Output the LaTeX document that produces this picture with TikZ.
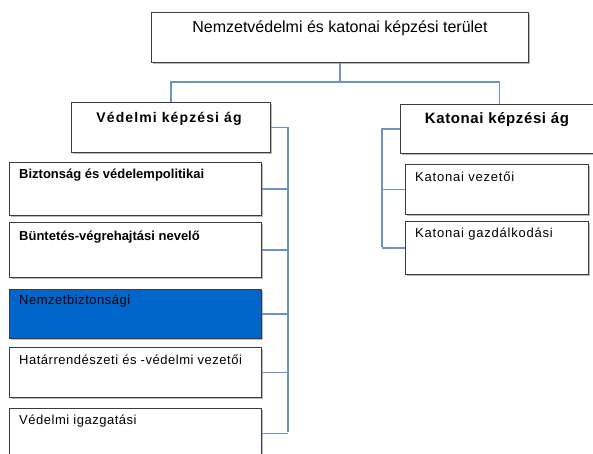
\documentclass[tikz,border=0pt]{standalone}
\usepackage{fontspec}
\usetikzlibrary{shadows}
\setmainfont{Liberation Sans}
\definecolor{connc}{RGB}{110,145,200}
\definecolor{boxc}{RGB}{60,60,60}
\definecolor{bluef}{RGB}{0,102,204}
\begin{document}
\begin{tikzpicture}[x=1pt,y=-1pt,
  box/.style={draw=boxc, line width=1.1pt, fill=white, inner sep=0pt, anchor=north west,
    drop shadow={shadow xshift=1.2pt, shadow yshift=-1.2pt, opacity=0.45, fill=black!60}},
  conn/.style={draw=connc, line width=1.4pt},
  headtxt/.style={inner sep=0pt, anchor=base, font=\fontsize{16}{19}\selectfont},
  branchtxt/.style={inner sep=0pt, anchor=base, font=\bfseries\fontsize{14}{17}\selectfont\addfontfeatures{LetterSpace=8}},
  ktxt/.style={inner sep=0pt, anchor=base, font=\bfseries\fontsize{15}{18}\selectfont\addfontfeatures{LetterSpace=4}},
  boldtxt/.style={inner sep=0pt, anchor=base west, font=\bfseries\fontsize{13}{16}\selectfont},
  regtxt/.style={inner sep=0pt, anchor=base west, font=\fontsize{13}{16}\selectfont\addfontfeatures{LetterSpace=4}},
  kregtxt/.style={inner sep=0pt, anchor=base west, font=\fontsize{13}{16}\selectfont\addfontfeatures{LetterSpace=6}}
]
\useasboundingbox (0,0) rectangle (593,453);

% helper coordinates
\coordinate (bus) at (339,82);
\coordinate (lb) at (288,432);
\coordinate (rb) at (382,247);

% boxes
\node[box, minimum width=377, minimum height=50] (top) at (151,12) {};
\node[box, minimum width=199, minimum height=50] (V) at (71,102) {};
\node[box, minimum width=198, minimum height=49] (K) at (400,104) {};

\node[box, minimum width=252, minimum height=53] (b1) at (9,162) {};
\node[box, minimum width=252, minimum height=55] (b2) at (9,222) {};
\node[box, minimum width=252, minimum height=49, fill=bluef] (b3) at (9,289) {};
\node[box, minimum width=252, minimum height=50] (b4) at (9,347) {};
\node[box, minimum width=252, minimum height=50] (b5) at (9,408) {};

\node[box, minimum width=183, minimum height=50] (k1) at (405,164) {};
\node[box, minimum width=183, minimum height=53] (k2) at (405,221) {};

% connectors
\draw[conn] (top.south) -- (top.south |- bus);
\draw[conn] (V.north) |- (bus) -| (K.north);
\draw[conn] (V.east) -| (lb);
\foreach \b in {b1,b2,b3,b4,b5} \draw[conn] (\b.east) -- (\b.east -| lb);
\draw[conn] (K.west) -| (rb);
\foreach \b in {k1,k2} \draw[conn] (\b.west) -- (\b.west -| rb);

% texts
\node[headtxt] (ttop) at (340,32) {Nemzetvédelmi és katonai képzési terület};
\node[branchtxt] (tV) at (169,122) {Védelmi képzési ág};
\node[ktxt] (tK) at (497,123) {Katonai képzési ág};

\node[boldtxt] (t1) at (19,178) {Biztonság és védelempolitikai};
\node[boldtxt] (t2) at (19,240) {Büntetés-végrehajtási nevelő};
\node[regtxt] (t3) at (19,304) {Nemzetbiztonsági};
\node[regtxt] (t4) at (19,364) {Határrendészeti és -védelmi vezetői};
\node[regtxt] (t5) at (19,424) {Védelmi igazgatási};

\node[kregtxt] (tk1) at (415,181) {Katonai vezetői};
\node[kregtxt] (tk2) at (415,237) {Katonai gazdálkodási};
\end{tikzpicture}
\end{document}
